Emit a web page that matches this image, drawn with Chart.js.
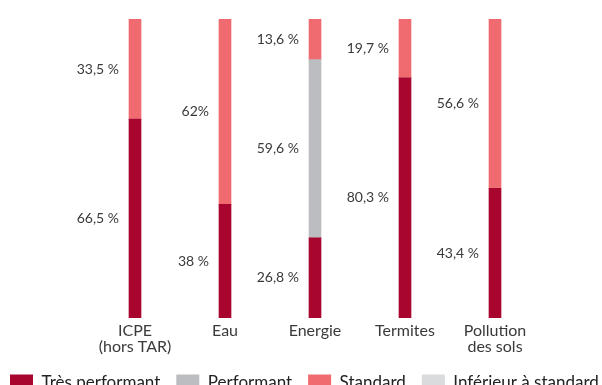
<!DOCTYPE html>
<html lang="fr">
<head>
<meta charset="utf-8">
<script src="https://cdn.jsdelivr.net/npm/chart.js@4.4.1/dist/chart.umd.min.js"></script>
<style>
  html, body { margin: 0; padding: 0; background: #fff; overflow: hidden; }
  #wrap { width: 640px; height: 401px; position: relative; }
</style>
</head>
<body>
<div id="wrap"><canvas id="chart"></canvas></div>
<script>
// ── Data ────────────────────────────────────────────────────────────────────
const CATEGORIES      = [['ICPE', '(hors TAR)'], 'Eau', 'Energie', 'Termites', ['Pollution', 'des sols']];
const TRES_PERFORMANT = [66.5, 38, 26.8, 80.3, 43.4];
const PERFORMANT      = [0, 0, 59.6, 0, 0];
const STANDARD        = [33.5, 62, 13.6, 19.7, 56.6];
const INFERIEUR       = [0, 0, 0, 0, 0];
// labels printed without the space before "%" (dataset index, category index)
const TIGHT_PCT = [[2, 1]];

const COLOR = {
  tres:  '#a8052f',
  perf:  '#bcbdc0',
  std:   '#f06b70',
  inf:   '#dadbdc',
};
const TEXT = '#3a3a3a';
const FONT = 'Lato';

function fmt(v, di, i) {
  const tight = TIGHT_PCT.some(([d, c]) => d === di && c === i);
  return String(v).replace('.', ',') + (tight ? '%' : ' %');
}

// values written to the left of each segment, centred on it
const valueLabels = {
  id: 'valueLabels',
  afterDatasetsDraw(chart) {
    const ctx = chart.ctx;
    ctx.save();
    ctx.font = `400 14px ${FONT}`;
    ctx.fillStyle = TEXT;
    ctx.textAlign = 'right';
    ctx.textBaseline = 'middle';
    chart.data.datasets.forEach((ds, di) => {
      chart.getDatasetMeta(di).data.forEach((bar, i) => {
        const v = ds.data[i];
        if (!v) return;
        const { x, y, base, width } = bar.getProps(['x', 'y', 'base', 'width'], true);
        ctx.fillText(fmt(v, di, i), x - width / 2 - 10, (y + base) / 2);
      });
    });
    ctx.restore();
  },
};

const bar = (label, data, color) => ({
  label, data,
  backgroundColor: color,
  borderWidth: 0,
  barThickness: 12,
});

new Chart(document.getElementById('chart'), {
  type: 'bar',
  data: {
    labels: CATEGORIES,
    datasets: [
      bar('Très performant', TRES_PERFORMANT, COLOR.tres),
      bar('Performant', PERFORMANT, COLOR.perf),
      bar('Standard', STANDARD, COLOR.std),
      bar('Inférieur à standard', INFERIEUR, COLOR.inf),
    ],
  },
  options: {
    responsive: true, maintainAspectRatio: false, animation: false,
    layout: { padding: { top: 19, left: -6 } },
    plugins: {
      tooltip: { enabled: false },
      legend: {
        position: 'bottom',
        align: 'start',
        labels: {
          boxWidth: 23, boxHeight: 16, padding: 16,
          color: '#222', font: { family: FONT, size: 17 },
        },
      },
    },
    scales: {
      x: {
        stacked: true,
        grid: { display: false, drawTicks: false }, border: { display: false },
        ticks: { color: TEXT, padding: 5, font: { family: FONT, size: 16, lineHeight: 1.0 } },
        afterFit: s => { s.height = 40; },
      },
      y: {
        stacked: true, min: 0, max: 100,
        grid: { display: false, drawTicks: false }, border: { display: false },
        ticks: { display: false },
        afterFit: s => { s.width = 96; },
      },
      yRight: {
        type: 'linear', position: 'right', display: true,
        grid: { display: false, drawTicks: false }, border: { display: false },
        ticks: { display: false },
        afterFit: s => { s.width = 100; },
      },
    },
  },
  plugins: [valueLabels],
});
</script>
</body>
</html>
